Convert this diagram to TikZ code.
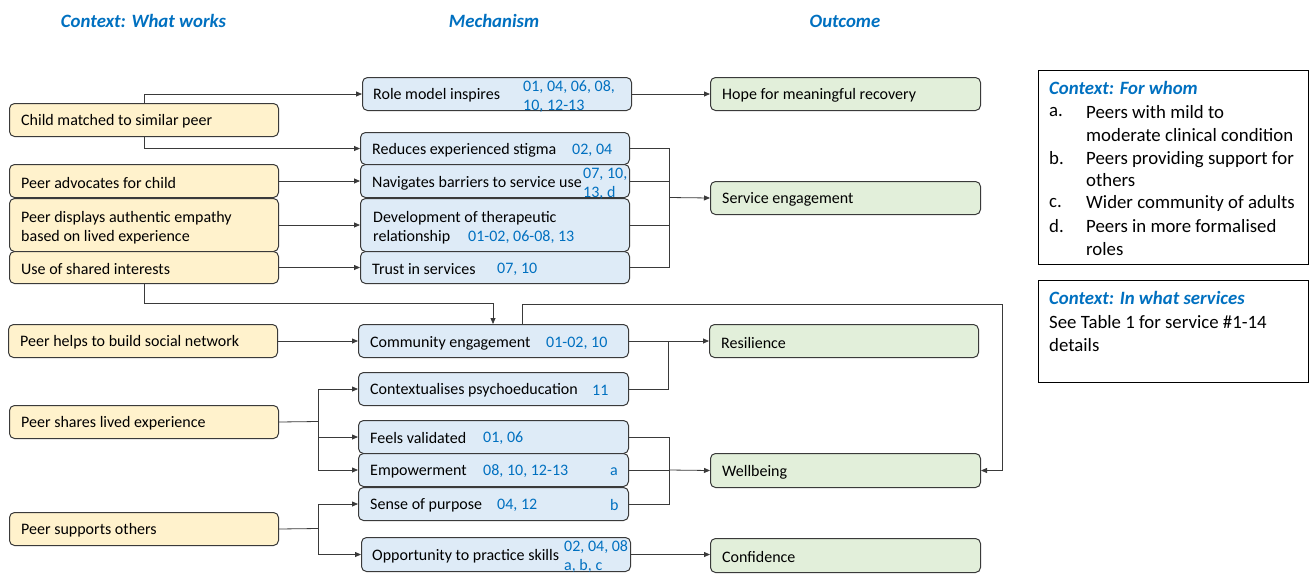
\documentclass[tikz,border=0pt]{standalone}
\usepackage{fontspec}
\setmainfont{Carlito}
\usetikzlibrary{arrows.meta,calc}
\definecolor{yel}{HTML}{FFF2CC}
\definecolor{blu}{HTML}{DEEBF7}
\definecolor{grn}{HTML}{E2EFDA}
\definecolor{numc}{HTML}{0070C0}
\definecolor{edgec}{HTML}{3A3A3A}
\tikzset{
  box/.style={draw=edgec, line width=1pt, rounded corners=5pt, inner sep=0pt, anchor=north west},
  ybox/.style={box, fill=yel},
  bbox/.style={box, fill=blu},
  gbox/.style={box, fill=grn},
  pbox/.style={draw=black, line width=0.9pt, inner sep=0pt, anchor=north west},
  txt/.style={anchor=west, inner sep=0pt, yshift=-2pt, font=\fontsize{16}{19.5}\selectfont, align=left, text=black},
  numt/.style={txt, text=numc},
  head/.style={inner sep=0pt, yshift=-1pt, font=\fontsize{18.8}{22.8}\selectfont\bfseries\itshape, text=numc},
  arr/.style={draw=edgec, line width=0.8pt, -{Triangle[length=6pt,width=5pt]}},
  ln/.style={draw=edgec, line width=0.8pt},
}
\newcommand\mkbox[6]{\node[#6, minimum width={#4-#2}, minimum height={#5-#3}] (#1) at (#2,#3) {};}
\begin{document}
\begin{tikzpicture}[x=1pt,y=-1pt]
\useasboundingbox (0,0) rectangle (1309,576);
% headers
\node[head] (h1) at (143.5,20) {Context: What works};
\node[head] (h2) at (494,20) {Mechanism};
\node[head] (h3) at (845,20) {Outcome};
% left boxes
\mkbox{child}{9}{103}{278}{136}{ybox}
\mkbox{advoc}{9}{164}{278}{197}{ybox}
\mkbox{displ}{9}{198}{278}{251}{ybox}
\mkbox{shared}{9}{251}{278}{283}{ybox}
\mkbox{helps}{8}{324}{277}{357}{ybox}
\mkbox{shares}{9}{405}{278}{438}{ybox}
\mkbox{supp}{9}{512}{278}{545}{ybox}
\node[txt] (child-t) at (21,119.5) {Child matched to similar peer};
\node[txt] (advoc-t) at (21,180.5) {Peer advocates for child};
\node[txt] (displ-t) at (21,225.5) {Peer displays authentic empathy\\based on lived experience};
\node[txt] (shared-t) at (21,267) {Use of shared interests};
\node[txt] (helps-t) at (20,340.5) {Peer helps to build social network};
\node[txt] (shares-t) at (21,421.5) {Peer shares lived experience};
\node[txt] (supp-t) at (21,528.5) {Peer supports others};
% middle boxes
\mkbox{role}{362}{77}{631}{110}{bbox}
\mkbox{stigma}{360}{132}{629}{164}{bbox}
\mkbox{nav}{360}{164}{629}{197}{bbox}
\mkbox{dev}{360}{198}{629}{251}{bbox}
\mkbox{trust}{360}{251}{629}{283}{bbox}
\mkbox{comm}{358}{324}{628}{357}{bbox}
\mkbox{ctx}{358}{372}{628}{405}{bbox}
\mkbox{valid}{358}{420}{628}{453}{bbox}
\mkbox{emp}{358}{453}{628}{486}{bbox}
\mkbox{purp}{358}{487}{628}{520}{bbox}
\mkbox{opp}{361}{537}{630}{571}{bbox}
\node[txt] (role-t) at (373,93.5) {Role model inspires};
\node[numt] (role-n) at (523,94.5) {01, 04, 06, 08,\\10, 12-13};
\node[txt] (stigma-t) at (372,148) {Reduces experienced stigma};
\node[numt] (stigma-n) at (572,148) {02, 04};
\node[txt] (nav-t) at (372,181) {Navigates barriers to service use};
\node[numt] (nav-n) at (583,182) {07, 10,\\13, d};
\node[txt] (dev-t) at (373,225.5) {Development of therapeutic\\relationship};
\node[numt] (dev-n) at (468,235) {01-02, 06-08, 13};
\node[txt] (trust-t) at (372,267) {Trust in services};
\node[numt] (trust-n) at (497,267) {07, 10};
\node[txt] (comm-t) at (370,341) {Community engagement};
\node[numt] (comm-n) at (546,341) {01-02, 10};
\node[txt] (ctx-t) at (370,388.5) {Contextualises psychoeducation};
\node[numt] (ctx-n) at (592,388.5) {11};
\node[txt] (valid-t) at (370,436) {Feels validated};
\node[numt] (valid-n) at (483,436) {01, 06};
\node[txt] (emp-t) at (370,469.5) {Empowerment};
\node[numt] (emp-n) at (483,469.5) {08, 10, 12-13};
\node[numt] (emp-a) at (610,469.5) {a};
\node[txt] (purp-t) at (370,503) {Sense of purpose};
\node[numt] (purp-n) at (497,503) {04, 12};
\node[numt] (purp-b) at (610,503) {b};
\node[txt] (opp-t) at (372,554) {Opportunity to practice skills};
\node[numt] (opp-n) at (564,554.5) {02, 04, 08\\a, b, c};
% right boxes
\mkbox{hope}{710}{77}{980}{110}{gbox}
\mkbox{serv}{710}{181}{980}{214}{gbox}
\mkbox{res}{709}{324}{978}{357}{gbox}
\mkbox{well}{710}{453}{980}{487}{gbox}
\mkbox{conf}{710}{538}{980}{572}{gbox}
\node[txt] (hope-t) at (722,93.5) {Hope for meaningful recovery};
\node[txt] (serv-t) at (722,197.5) {Service engagement};
\node[txt] (res-t) at (721,340.5) {Resilience};
\node[txt] (well-t) at (722,470) {Wellbeing};
\node[txt] (conf-t) at (722,555) {Confidence};
% context boxes
\mkbox{whom}{1038}{70}{1308}{264}{pbox}
\mkbox{svc}{1038}{280}{1308}{382}{pbox}
\node[head, anchor=west] (whom-h) at (1049,87) {Context: For whom};
\begin{scope}[txt/.append style={font=\fontsize{18.8}{22.8}\selectfont}]
\node[txt] (la) at (1049,110) {a.};
\node[txt] (ia) at (1086,121.5) {Peers with mild to\\moderate clinical condition};
\node[txt] (lb) at (1049,156) {b.};
\node[txt] (ib) at (1086,167) {Peers providing support for\\others};
\node[txt] (lc) at (1049,201) {c.};
\node[txt] (ic) at (1086,201) {Wider community of adults};
\node[txt] (ld) at (1049,224) {d.};
\node[txt] (id) at (1086,235.5) {Peers in more formalised\\roles};
\node[head, anchor=west] (svc-h) at (1049,297) {Context: In what services};
\node[txt] (svc-t) at (1049,331.5) {See Table 1 for service \#1-14\\details};
\end{scope}
% connectors: context -> mechanism
\draw[arr] (child.north) |- (role.west);
\draw[arr] (child.south) |- (stigma.west);
\draw[arr] (advoc.east) -- (nav.west);
\draw[arr] (displ.east) -- (dev.west);
\draw[arr] (shared.east) -- (trust.west);
\coordinate (j1) at (493,303);
\draw[arr] (shared.south) |- (j1) -- (j1 |- comm.north);
\draw[arr] (helps.east) -- (comm.west);
\coordinate (s1) at (318,421.5);
\draw[ln] (shares.east) -- (s1);
\draw[arr] (s1) |- (ctx.west);
\draw[arr] (s1) |- (valid.west);
\draw[arr] (s1) |- (emp.west);
\coordinate (s2) at (318,528.5);
\draw[ln] (supp.east) -- (s2);
\draw[arr] (s2) |- (purp.west);
\draw[arr] (s2) |- (opp.west);
% mechanism -> outcome
\draw[arr] (role.east) -- (hope.west);
\coordinate (sej) at (669,197.5);
\draw[ln] (stigma.east) -| (sej);
\draw[ln] (nav.east) -| (sej);
\draw[ln] (dev.east) -| (sej);
\draw[ln] (trust.east) -| (sej);
\draw[arr] (sej) -- (serv.west);
\draw[arr] (comm.east) -- (res.west);
\coordinate (rj) at (668,340.5);
\draw[ln] (ctx.east) -| (rj);
\coordinate (c1) at (522,304);
\coordinate (c2) at (1002,304);
\draw[arr] (c1 |- comm.north) -- (c1) -- (c2) |- (well.east);
\coordinate (wj) at (669,470);
\draw[ln] (valid.east) -| (wj);
\draw[ln] (purp.east) -| (wj);
\draw[ln] (emp.east) -- (emp.east -| wj);
\draw[arr] (wj) -- (well.west);
\draw[arr] (opp.east) -- (opp.east -| conf.west);
\end{tikzpicture}
\end{document}
